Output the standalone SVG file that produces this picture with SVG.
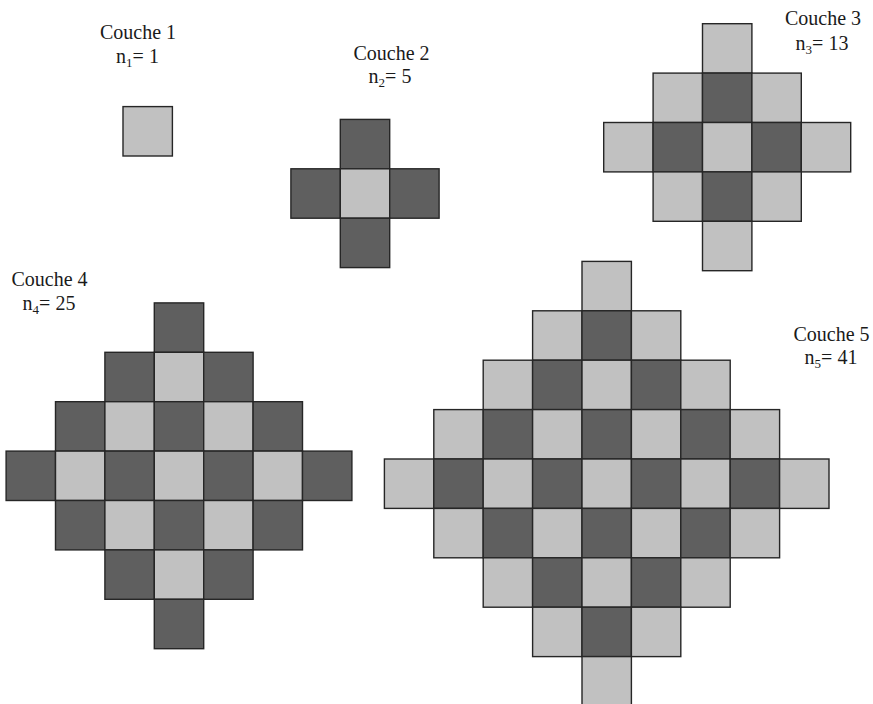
<svg xmlns="http://www.w3.org/2000/svg" width="873" height="704" viewBox="0 0 873 704">
<style>
rect.l{fill:#c1c1c1;stroke:#262626;stroke-width:1.4}
rect.d{fill:#5f5f5f;stroke:#262626;stroke-width:1.4}
text{font-size:20px;fill:#1a1a1a;text-anchor:middle}
.sub{font-size:13px}
</style>
<rect width="873" height="704" fill="#ffffff"/>
<g id="layer1" transform="translate(147.7,131.3)">
<rect class="l" x="-24.7" y="-24.7" width="49.4" height="49.4"/>
</g>
<g id="layer2" transform="translate(365,193.5)">
<rect class="d" x="-24.7" y="-74.1" width="49.4" height="49.4"/>
<rect class="d" x="-74.1" y="-24.7" width="49.4" height="49.4"/>
<rect class="l" x="-24.7" y="-24.7" width="49.4" height="49.4"/>
<rect class="d" x="24.7" y="-24.7" width="49.4" height="49.4"/>
<rect class="d" x="-24.7" y="24.7" width="49.4" height="49.4"/>
</g>
<g id="layer3" transform="translate(727.2,147.2)">
<rect class="l" x="-24.7" y="-123.5" width="49.4" height="49.4"/>
<rect class="l" x="-74.1" y="-74.1" width="49.4" height="49.4"/>
<rect class="d" x="-24.7" y="-74.1" width="49.4" height="49.4"/>
<rect class="l" x="24.7" y="-74.1" width="49.4" height="49.4"/>
<rect class="l" x="-123.5" y="-24.7" width="49.4" height="49.4"/>
<rect class="d" x="-74.1" y="-24.7" width="49.4" height="49.4"/>
<rect class="l" x="-24.7" y="-24.7" width="49.4" height="49.4"/>
<rect class="d" x="24.7" y="-24.7" width="49.4" height="49.4"/>
<rect class="l" x="74.1" y="-24.7" width="49.4" height="49.4"/>
<rect class="l" x="-74.1" y="24.7" width="49.4" height="49.4"/>
<rect class="d" x="-24.7" y="24.7" width="49.4" height="49.4"/>
<rect class="l" x="24.7" y="24.7" width="49.4" height="49.4"/>
<rect class="l" x="-24.7" y="74.1" width="49.4" height="49.4"/>
</g>
<g id="layer4" transform="translate(179,475.8)">
<rect class="d" x="-24.7" y="-172.9" width="49.4" height="49.4"/>
<rect class="d" x="-74.1" y="-123.5" width="49.4" height="49.4"/>
<rect class="l" x="-24.7" y="-123.5" width="49.4" height="49.4"/>
<rect class="d" x="24.7" y="-123.5" width="49.4" height="49.4"/>
<rect class="d" x="-123.5" y="-74.1" width="49.4" height="49.4"/>
<rect class="l" x="-74.1" y="-74.1" width="49.4" height="49.4"/>
<rect class="d" x="-24.7" y="-74.1" width="49.4" height="49.4"/>
<rect class="l" x="24.7" y="-74.1" width="49.4" height="49.4"/>
<rect class="d" x="74.1" y="-74.1" width="49.4" height="49.4"/>
<rect class="d" x="-172.9" y="-24.7" width="49.4" height="49.4"/>
<rect class="l" x="-123.5" y="-24.7" width="49.4" height="49.4"/>
<rect class="d" x="-74.1" y="-24.7" width="49.4" height="49.4"/>
<rect class="l" x="-24.7" y="-24.7" width="49.4" height="49.4"/>
<rect class="d" x="24.7" y="-24.7" width="49.4" height="49.4"/>
<rect class="l" x="74.1" y="-24.7" width="49.4" height="49.4"/>
<rect class="d" x="123.5" y="-24.7" width="49.4" height="49.4"/>
<rect class="d" x="-123.5" y="24.7" width="49.4" height="49.4"/>
<rect class="l" x="-74.1" y="24.7" width="49.4" height="49.4"/>
<rect class="d" x="-24.7" y="24.7" width="49.4" height="49.4"/>
<rect class="l" x="24.7" y="24.7" width="49.4" height="49.4"/>
<rect class="d" x="74.1" y="24.7" width="49.4" height="49.4"/>
<rect class="d" x="-74.1" y="74.1" width="49.4" height="49.4"/>
<rect class="l" x="-24.7" y="74.1" width="49.4" height="49.4"/>
<rect class="d" x="24.7" y="74.1" width="49.4" height="49.4"/>
<rect class="d" x="-24.7" y="123.5" width="49.4" height="49.4"/>
</g>
<g id="layer5" transform="translate(606.7,483.7)">
<rect class="l" x="-24.7" y="-222.3" width="49.4" height="49.4"/>
<rect class="l" x="-74.1" y="-172.9" width="49.4" height="49.4"/>
<rect class="d" x="-24.7" y="-172.9" width="49.4" height="49.4"/>
<rect class="l" x="24.7" y="-172.9" width="49.4" height="49.4"/>
<rect class="l" x="-123.5" y="-123.5" width="49.4" height="49.4"/>
<rect class="d" x="-74.1" y="-123.5" width="49.4" height="49.4"/>
<rect class="l" x="-24.7" y="-123.5" width="49.4" height="49.4"/>
<rect class="d" x="24.7" y="-123.5" width="49.4" height="49.4"/>
<rect class="l" x="74.1" y="-123.5" width="49.4" height="49.4"/>
<rect class="l" x="-172.9" y="-74.1" width="49.4" height="49.4"/>
<rect class="d" x="-123.5" y="-74.1" width="49.4" height="49.4"/>
<rect class="l" x="-74.1" y="-74.1" width="49.4" height="49.4"/>
<rect class="d" x="-24.7" y="-74.1" width="49.4" height="49.4"/>
<rect class="l" x="24.7" y="-74.1" width="49.4" height="49.4"/>
<rect class="d" x="74.1" y="-74.1" width="49.4" height="49.4"/>
<rect class="l" x="123.5" y="-74.1" width="49.4" height="49.4"/>
<rect class="l" x="-222.3" y="-24.7" width="49.4" height="49.4"/>
<rect class="d" x="-172.9" y="-24.7" width="49.4" height="49.4"/>
<rect class="l" x="-123.5" y="-24.7" width="49.4" height="49.4"/>
<rect class="d" x="-74.1" y="-24.7" width="49.4" height="49.4"/>
<rect class="l" x="-24.7" y="-24.7" width="49.4" height="49.4"/>
<rect class="d" x="24.7" y="-24.7" width="49.4" height="49.4"/>
<rect class="l" x="74.1" y="-24.7" width="49.4" height="49.4"/>
<rect class="d" x="123.5" y="-24.7" width="49.4" height="49.4"/>
<rect class="l" x="172.9" y="-24.7" width="49.4" height="49.4"/>
<rect class="l" x="-172.9" y="24.7" width="49.4" height="49.4"/>
<rect class="d" x="-123.5" y="24.7" width="49.4" height="49.4"/>
<rect class="l" x="-74.1" y="24.7" width="49.4" height="49.4"/>
<rect class="d" x="-24.7" y="24.7" width="49.4" height="49.4"/>
<rect class="l" x="24.7" y="24.7" width="49.4" height="49.4"/>
<rect class="d" x="74.1" y="24.7" width="49.4" height="49.4"/>
<rect class="l" x="123.5" y="24.7" width="49.4" height="49.4"/>
<rect class="l" x="-123.5" y="74.1" width="49.4" height="49.4"/>
<rect class="d" x="-74.1" y="74.1" width="49.4" height="49.4"/>
<rect class="l" x="-24.7" y="74.1" width="49.4" height="49.4"/>
<rect class="d" x="24.7" y="74.1" width="49.4" height="49.4"/>
<rect class="l" x="74.1" y="74.1" width="49.4" height="49.4"/>
<rect class="l" x="-74.1" y="123.5" width="49.4" height="49.4"/>
<rect class="d" x="-24.7" y="123.5" width="49.4" height="49.4"/>
<rect class="l" x="24.7" y="123.5" width="49.4" height="49.4"/>
<rect class="l" x="-24.7" y="172.9" width="49.4" height="49.4"/>
</g>
<g id="labels" font-family="'Liberation Serif', 'DejaVu Serif', 'Times New Roman', serif">
<g id="label1">
<text x="138" y="39">Couche 1</text>
<text x="137.5" y="63">n<tspan class="sub" dy="4">1</tspan><tspan dy="-4">= 1</tspan></text>
</g>
<g id="label2">
<text x="391.5" y="60">Couche 2</text>
<text x="390" y="82.5">n<tspan class="sub" dy="4">2</tspan><tspan dy="-4">= 5</tspan></text>
</g>
<g id="label3">
<text x="823" y="25">Couche 3</text>
<text x="822" y="49.5">n<tspan class="sub" dy="4">3</tspan><tspan dy="-4">= 13</tspan></text>
</g>
<g id="label4">
<text x="49.5" y="285.5">Couche 4</text>
<text x="49" y="309.5">n<tspan class="sub" dy="4">4</tspan><tspan dy="-4">= 25</tspan></text>
</g>
<g id="label5">
<text x="831.5" y="341">Couche 5</text>
<text x="831" y="363.5">n<tspan class="sub" dy="4">5</tspan><tspan dy="-4">= 41</tspan></text>
</g>
</g>
</svg>
